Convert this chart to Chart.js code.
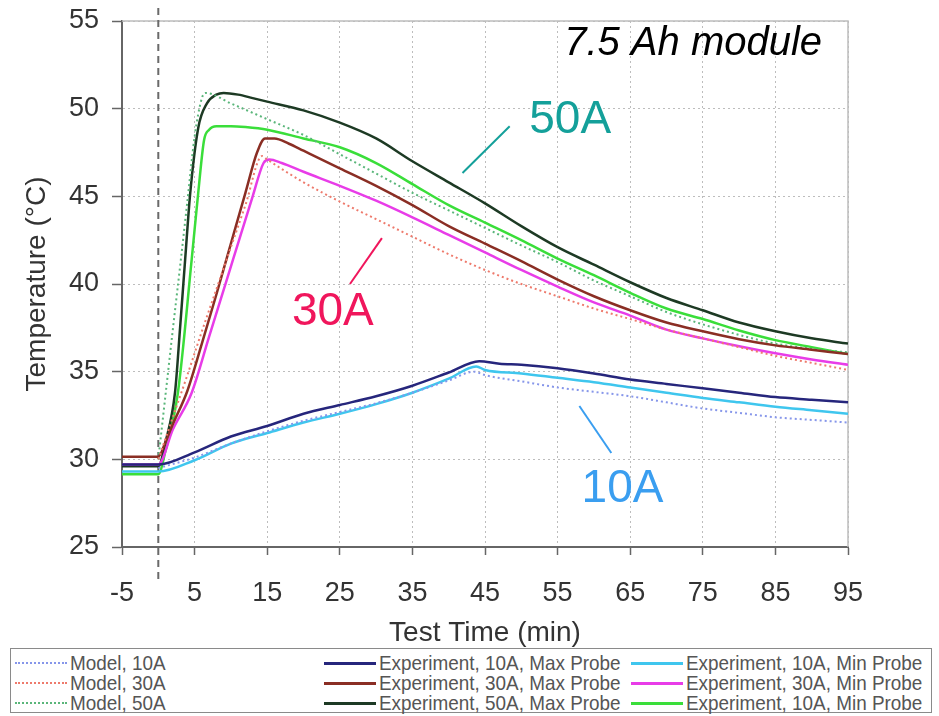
<!DOCTYPE html>
<html>
<head>
<meta charset="utf-8">
<title>7.5 Ah module temperature</title>
<script src="https://cdn.jsdelivr.net/npm/chart.js@4.4.0/dist/chart.umd.min.js"></script>
<style>
  body { margin: 0; background: #fff; font-family: "Liberation Sans", Arial, sans-serif; }
  #wrap { position: relative; width: 939px; height: 716px; overflow: hidden; }
  #chart { position: absolute; left: 0; top: 0; }
  #legend { position: absolute; left: 10px; top: 648px; width: 922px; height: 65px;
            border: 1.5px solid #8a8a8a; box-sizing: border-box; background: #fff; }
  .item { position: absolute; height: 20px; display: flex; align-items: center;
          font-size: 21px; color: #555; white-space: nowrap; }
  .swatch { width: 52px; height: 0; margin-right: 3px; flex: none; }
  .txt { display: inline-block; transform: scaleX(0.9); transform-origin: left center; }
</style>
</head>
<body>
<div id="wrap">
  <canvas id="chart" width="939" height="647"></canvas>
  <div id="legend"></div>
</div>
<script>
// === Data ===
const xTicks = [-5, 5, 15, 25, 35, 45, 55, 65, 75, 85, 95];
const yTicks = [25, 30, 35, 40, 45, 50, 55];

const tModel10 = [0, 5, 10, 15, 20, 25, 30, 35, 40, 43.5, 45, 50, 55, 60, 65, 70, 75, 80, 85, 90, 95];
const vModel10 = [29.5, 30.1, 30.9, 31.6, 32.2, 32.7, 33.2, 33.8, 34.5, 35.0, 34.8, 34.45, 34.1, 33.85, 33.6, 33.25, 32.9, 32.65, 32.4, 32.25, 32.1];

const tExp10Max = [-5, 0, 5, 10, 15, 20, 25, 30, 35, 40, 44.2, 47, 50, 55, 60, 65, 70, 75, 80, 85, 90, 95];
const vExp10Max = [29.7, 29.7, 30.4, 31.3, 31.9, 32.6, 33.1, 33.6, 34.2, 34.95, 35.6, 35.45, 35.4, 35.2, 34.9, 34.55, 34.3, 34.05, 33.8, 33.55, 33.4, 33.25];

const tExp10Min = [-5, 0, 5, 10, 15, 20, 25, 30, 35, 40, 43.8, 45, 50, 55, 60, 65, 70, 75, 80, 85, 90, 95];
const vExp10Min = [29.3, 29.3, 29.95, 30.9, 31.5, 32.1, 32.6, 33.15, 33.8, 34.6, 35.3, 35.1, 34.9, 34.65, 34.4, 34.1, 33.8, 33.5, 33.25, 33.0, 32.8, 32.6];

const tModel30 = [0, 2, 4, 6, 8, 10, 12, 14.3, 15, 20, 25, 30, 35, 40, 45, 50, 55, 60, 65, 70, 75, 80, 85, 90, 95];
const vModel30 = [30.0, 32.4, 34.8, 37.3, 39.7, 42.1, 44.5, 47.3, 47.1, 45.8, 44.7, 43.7, 42.7, 41.7, 40.8, 40.0, 39.3, 38.6, 38.0, 37.4, 36.9, 36.4, 35.9, 35.5, 35.1];

const tExp30Max = [-5, 0, 1, 2, 4, 6, 8, 10, 12, 13.6, 14.7, 16, 18, 20, 25, 30, 35, 40, 45, 50, 55, 60, 65, 70, 75, 80, 85, 90, 95];
const vExp30Max = [30.15, 30.15, 31.0, 32.0, 33.9, 36.6, 39.4, 42.3, 45.2, 47.5, 48.3, 48.3, 48.0, 47.6, 46.6, 45.6, 44.5, 43.3, 42.3, 41.3, 40.25, 39.3, 38.5, 37.8, 37.3, 36.85, 36.5, 36.25, 36.0];

const tExp30Min = [-5, 0, 2, 4.6, 7, 10.3, 13, 14.5, 15.3, 17, 20, 25, 30, 35, 40, 45, 50, 55, 60, 65, 70, 75, 80, 85, 90, 95];
const vExp30Min = [29.7, 29.7, 31.7, 33.8, 37.0, 41.4, 45.0, 46.9, 47.1, 46.9, 46.4, 45.6, 44.75, 43.8, 42.8, 41.8, 40.8, 39.85, 38.95, 38.2, 37.4, 36.9, 36.45, 36.05, 35.7, 35.4];

const tModel50 = [0, 1, 2, 3, 4, 5, 6, 6.5, 10, 15, 20, 25, 30, 35, 40, 45, 50, 55, 60, 65, 70, 75, 80, 85, 90, 95];
const vModel50 = [30.0, 33.7, 37.4, 41.0, 44.7, 48.4, 50.6, 50.9, 50.3, 49.4, 48.5, 47.4, 46.3, 45.2, 44.2, 43.2, 42.2, 41.25, 40.2, 39.3, 38.4, 37.7, 37.1, 36.6, 36.3, 36.1];

const tExp50Max = [-5, 0, 1, 2.3, 3, 3.7, 4.4, 5.5, 6.7, 8, 9, 11, 13, 15, 20, 25, 30, 35, 40, 45, 50, 55, 60, 65, 70, 75, 80, 85, 90, 95];
const vExp50Max = [29.6, 29.6, 31.0, 33.8, 37.5, 41.4, 45.2, 48.9, 50.3, 50.8, 50.9, 50.8, 50.6, 50.4, 49.9, 49.2, 48.3, 47.0, 45.8, 44.6, 43.3, 42.1, 41.1, 40.1, 39.2, 38.5, 37.8, 37.3, 36.9, 36.6];

const tExp50Min = [-5, 0, 1, 2.7, 4.6, 5.5, 6.3, 7, 8, 10, 12, 15, 20, 25, 30, 35, 40, 45, 50, 55, 60, 65, 70, 75, 80, 85, 90, 95];
const vExp50Min = [29.15, 29.15, 30.5, 33.8, 41.4, 45.2, 48.2, 48.8, 49.0, 49.0, 48.95, 48.8, 48.3, 47.8, 46.9, 45.7, 44.5, 43.5, 42.5, 41.45, 40.5, 39.5, 38.6, 38.0, 37.35, 36.8, 36.4, 36.0];

const seriesLabels = [
  'Model, 10A', 'Experiment, 10A, Max Probe', 'Experiment, 10A, Min Probe',
  'Model, 30A', 'Experiment, 30A, Max Probe', 'Experiment, 30A, Min Probe',
  'Model, 50A', 'Experiment, 50A, Max Probe', 'Experiment, 10A, Min Probe'
];

// === Helpers ===
const pts = (ts, vs) => ts.map((t, i) => ({ x: t, y: vs[i] }));

function modelLine(label, ts, vs, color) {
  return {
    label, data: pts(ts, vs), borderColor: color, borderWidth: 2,
    borderDash: [2, 3], pointRadius: 0, fill: false, cubicInterpolationMode: 'monotone'
  };
}
function expLine(label, ts, vs, color) {
  return {
    label, data: pts(ts, vs), borderColor: color, borderWidth: 2.5,
    pointRadius: 0, fill: false, cubicInterpolationMode: 'monotone'
  };
}

const datasets = [
  modelLine(seriesLabels[0], tModel10, vModel10, '#8696ea'),
  expLine(seriesLabels[1], tExp10Max, vExp10Max, '#26267c'),
  expLine(seriesLabels[2], tExp10Min, vExp10Min, '#3fc6ee'),
  modelLine(seriesLabels[3], tModel30, vModel30, '#ee7a6c'),
  expLine(seriesLabels[4], tExp30Max, vExp30Max, '#8a2e24'),
  expLine(seriesLabels[5], tExp30Min, vExp30Min, '#e83ce8'),
  modelLine(seriesLabels[6], tModel50, vModel50, '#5ab67a'),
  expLine(seriesLabels[7], tExp50Max, vExp50Max, '#1d3a24'),
  expLine(seriesLabels[8], tExp50Min, vExp50Min, '#3ade3a')
];

// === Annotations (data coordinates) ===
const notes = [
  { text: '7.5 Ah module', x: 55.9, y: 53.06, color: '#000', font: 'italic 40px "Liberation Sans", Arial' },
  { text: '50A', x: 51.1, y: 48.6, color: '#14a09a', font: '46px "Liberation Sans", Arial' },
  { text: '30A', x: 18.4, y: 37.66, color: '#f0165c', font: '46px "Liberation Sans", Arial' },
  { text: '10A', x: 58.3, y: 27.56, color: '#3a9ef0', font: '46px "Liberation Sans", Arial' }
];
const leaders = [
  { x1: 48.4, y1: 49.0, x2: 41.9, y2: 46.33, color: '#14a09a' },
  { x1: 26.4, y1: 40.0, x2: 30.8, y2: 42.62, color: '#f0165c' },
  { x1: 58.0, y1: 33.04, x2: 62.4, y2: 30.36, color: '#3a9ef0' }
];

const framePlugin = {
  id: 'frame',
  beforeDatasetsDraw(chart) {
    const { ctx, chartArea: a, scales: { x } } = chart;
    ctx.save();
    // light border on top and right
    ctx.strokeStyle = '#bdbdbd';
    ctx.lineWidth = 1.5;
    ctx.beginPath();
    ctx.moveTo(a.left, a.top);
    ctx.lineTo(a.right, a.top);
    ctx.lineTo(a.right, a.bottom);
    ctx.stroke();
    // dashed line at t = 0
    const x0 = x.getPixelForValue(0);
    ctx.strokeStyle = '#6a6a6a';
    ctx.lineWidth = 2;
    ctx.setLineDash([7, 5]);
    ctx.beginPath();
    ctx.moveTo(x0, a.top - 13);
    ctx.lineTo(x0, a.bottom + 36);
    ctx.stroke();
    ctx.restore();
  },
  afterDraw(chart) {
    const { ctx, scales: { x, y } } = chart;
    ctx.save();
    leaders.forEach(l => {
      ctx.strokeStyle = l.color;
      ctx.lineWidth = 2;
      ctx.beginPath();
      ctx.moveTo(x.getPixelForValue(l.x1), y.getPixelForValue(l.y1));
      ctx.lineTo(x.getPixelForValue(l.x2), y.getPixelForValue(l.y2));
      ctx.stroke();
    });
    ctx.textAlign = 'left';
    ctx.textBaseline = 'alphabetic';
    notes.forEach(n => {
      ctx.font = n.font;
      ctx.fillStyle = n.color;
      ctx.fillText(n.text, x.getPixelForValue(n.x), y.getPixelForValue(n.y));
    });
    ctx.restore();
  }
};

const tickFont = { family: '"Liberation Sans", Arial, sans-serif', size: 27, lineHeight: 1 };
const titleFont = { family: '"Liberation Sans", Arial, sans-serif', size: 28, lineHeight: 1 };

new Chart(document.getElementById('chart'), {
  type: 'line',
  data: { datasets },
  options: {
    responsive: false,
    animation: false,
    devicePixelRatio: 1,
    layout: { padding: { left: 0, top: 21, right: 91, bottom: 0 } },
    plugins: { legend: { display: false }, tooltip: { enabled: false } },
    scales: {
      x: {
        type: 'linear', min: -5, max: 95,
        afterBuildTicks: s => { s.ticks = xTicks.map(v => ({ value: v })); },
        afterFit: s => { s.height = 100; },
        ticks: { font: tickFont, color: '#333', padding: 25, maxRotation: 0, autoSkip: false },
        grid: { color: '#bdbdbd', lineWidth: 1, tickLength: 8, tickColor: '#666', tickWidth: 1.5 },
        border: { color: '#666', width: 2, dash: [2, 3] },
        title: { display: true, text: 'Test Time (min)', font: titleFont, color: '#333', padding: { top: 0, bottom: 0 } }
      },
      y: {
        type: 'linear', min: 25, max: 55,
        afterBuildTicks: s => { s.ticks = yTicks.map(v => ({ value: v })); },
        afterFit: s => { s.width = 122; s.paddingTop = 0; s.paddingBottom = 0; },
        ticks: { font: tickFont, color: '#333', padding: 13 },
        grid: { color: '#bdbdbd', lineWidth: 1, tickLength: 10, tickColor: '#666', tickWidth: 1.5 },
        border: { color: '#666', width: 2, dash: [2, 3] },
        title: { display: true, text: 'Temperature (°C)', font: titleFont, color: '#333', padding: { top: 23, bottom: 0 } }
      }
    }
  },
  plugins: [framePlugin]
});

// === Legend (3 columns x 3 rows) ===
const legendCols = [4, 313, 620];
const legend = document.getElementById('legend');
datasets.forEach((ds, i) => {
  const item = document.createElement('div');
  item.className = 'item';
  item.style.left = legendCols[i % 3] + 'px';
  item.style.top = (4 + Math.floor(i / 3) * 20) + 'px';
  const sw = document.createElement('span');
  sw.className = 'swatch';
  sw.style.borderTop = ds.borderDash ? `2px dotted ${ds.borderColor}` : `3px solid ${ds.borderColor}`;
  const txt = document.createElement('span');
  txt.className = 'txt';
  txt.textContent = ds.label;
  item.appendChild(sw);
  item.appendChild(txt);
  legend.appendChild(item);
});
</script>
</body>
</html>
